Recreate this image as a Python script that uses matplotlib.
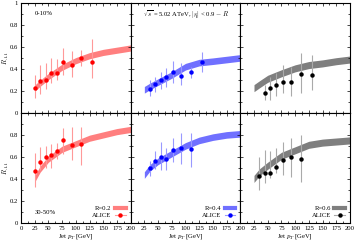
import numpy as np
import matplotlib
matplotlib.use('Agg')
import matplotlib.pyplot as plt
from matplotlib.ticker import MultipleLocator, FuncFormatter
from matplotlib.lines import Line2D

plt.rcParams['font.family'] = ['Liberation Serif', 'DejaVu Serif']
plt.rcParams['mathtext.fontset'] = 'cm'

# ALICE data points (pT bin centres, R_AA, error low/high)
pt_r2_top = [25, 35, 45, 55, 65, 77.5, 92.5, 110, 130]
raa_r2_top = [0.23, 0.29, 0.30, 0.36, 0.36, 0.46, 0.44, 0.50, 0.46]
lo_r2_top = [0.135, 0.17, 0.215, 0.27, 0.30, 0.345, 0.325, 0.43, 0.32]
hi_r2_top = [0.345, 0.44, 0.455, 0.495, 0.49, 0.59, 0.565, 0.57, 0.67]

pt_r4_top = [35, 45, 55, 65, 77.5, 92.5, 110, 130]
raa_r4_top = [0.22, 0.26, 0.30, 0.33, 0.37, 0.34, 0.37, 0.46]
lo_r4_top = [0.15, 0.19, 0.22, 0.24, 0.27, 0.25, 0.315, 0.375]
hi_r4_top = [0.30, 0.33, 0.37, 0.41, 0.47, 0.45, 0.415, 0.55]

pt_r6_top = [45, 55, 65, 77.5, 92.5, 110, 130]
raa_r6_top = [0.18, 0.23, 0.25, 0.285, 0.285, 0.355, 0.345]
lo_r6_top = [0.12, 0.12, 0.15, 0.18, 0.15, 0.18, 0.21]
hi_r6_top = [0.255, 0.33, 0.36, 0.435, 0.42, 0.54, 0.525]

pt_r2_bot = [25, 35, 45, 55, 65, 77.5, 92.5, 110]
raa_r2_bot = [0.475, 0.555, 0.595, 0.615, 0.655, 0.75, 0.71, 0.72]
lo_r2_bot = [0.33, 0.48, 0.50, 0.50, 0.58, 0.63, 0.57, 0.53]
hi_r2_bot = [0.635, 0.69, 0.695, 0.72, 0.73, 0.86, 0.875, 0.875]

pt_r4_bot = [35, 45, 55, 65, 77.5, 92.5, 110]
raa_r4_bot = [0.495, 0.565, 0.60, 0.58, 0.665, 0.685, 0.67]
lo_r4_bot = [0.43, 0.49, 0.48, 0.48, 0.555, 0.54, 0.51]
hi_r4_bot = [0.56, 0.65, 0.74, 0.68, 0.775, 0.815, 0.815]

pt_r6_bot = [35, 45, 55, 65, 77.5, 92.5, 110]
raa_r6_bot = [0.43, 0.45, 0.455, 0.51, 0.57, 0.60, 0.58]
lo_r6_bot = [0.30, 0.36, 0.41, 0.45, 0.44, 0.42, 0.375]
hi_r6_bot = [0.60, 0.66, 0.65, 0.68, 0.74, 0.77, 0.80]

# theory bands (centre values)
band_pt = [25, 35, 50, 75, 100, 125, 150, 175, 200]
band_r2_top = [0.225, 0.27, 0.33, 0.415, 0.475, 0.52, 0.55, 0.57, 0.59]
band_r4_top = [0.21, 0.24, 0.28, 0.345, 0.42, 0.457, 0.47, 0.485, 0.50]
band_r6_top = [0.225, 0.26, 0.31, 0.36, 0.405, 0.435, 0.45, 0.47, 0.485]
band_r2_bot = [0.40, 0.49, 0.58, 0.67, 0.72, 0.77, 0.80, 0.83, 0.85]
band_r4_bot = [0.435, 0.50, 0.56, 0.63, 0.70, 0.75, 0.78, 0.80, 0.81]
band_r6_bot = [0.40, 0.46, 0.52, 0.61, 0.66, 0.71, 0.73, 0.74, 0.75]

labels_R = ['R=0.2', 'R=0.4', 'R=0.6']
band_cols = ['#ff7f7f', '#7070ff', '#7f7f7f']
pt_cols = ['#ff0000', '#0000ff', '#000000']
err_cols = ['#ff9999', '#9999ff', '#aaaaaa']
half_w = [0.028, 0.03, 0.032]

top = [(pt_r2_top, raa_r2_top, lo_r2_top, hi_r2_top, band_r2_top),
       (pt_r4_top, raa_r4_top, lo_r4_top, hi_r4_top, band_r4_top),
       (pt_r6_top, raa_r6_top, lo_r6_top, hi_r6_top, band_r6_top)]
bot = [(pt_r2_bot, raa_r2_bot, lo_r2_bot, hi_r2_bot, band_r2_bot),
       (pt_r4_bot, raa_r4_bot, lo_r4_bot, hi_r4_bot, band_r4_bot),
       (pt_r6_bot, raa_r6_bot, lo_r6_bot, hi_r6_bot, band_r6_bot)]

fig, axes = plt.subplots(2, 3, figsize=(3.56, 2.41), dpi=100)
fig.subplots_adjust(left=0.059, right=0.983, top=0.988, bottom=0.075, wspace=0, hspace=0)

def yfmt(v, pos):
    return '%g' % round(v, 2)

def yfmt_bot(v, pos):
    return '' if v > 0.95 else '%g' % round(v, 2)

def xfmt_skip0(v, pos):
    return '' if v < 1 else '%g' % v

fs = 4.8
for row, rows in enumerate([top, bot]):
    for col, (pt, raa, lo, hi, band) in enumerate(rows):
        ax = axes[row, col]
        b = np.array(band)
        ax.fill_between(band_pt, b - half_w[col], b + half_w[col], color=band_cols[col], lw=0)
        raa_a = np.array(raa)
        yerr = [raa_a - np.array(lo), np.array(hi) - raa_a]
        ax.errorbar(pt, raa, yerr=yerr, fmt='none', ecolor=err_cols[col], elinewidth=0.8, capsize=0)
        ax.plot(pt, raa, 'o', color=pt_cols[col], ms=3.2, mec='none')

        ax.set_xlim(0, 200)
        ax.set_ylim(0, 1)
        ax.xaxis.set_major_locator(MultipleLocator(25))
        ax.xaxis.set_minor_locator(MultipleLocator(12.5))
        ax.yaxis.set_major_locator(MultipleLocator(0.2))
        ax.yaxis.set_minor_locator(MultipleLocator(0.1))
        ax.tick_params(which='both', direction='in', top=True, right=True, labelsize=fs, pad=2, width=0.5)
        ax.tick_params(which='major', length=2.5)
        ax.tick_params(which='minor', length=1.2)
        for s in ax.spines.values():
            s.set_linewidth(0.8)

        if row == 0:
            ax.tick_params(labelbottom=False)
        else:
            ax.set_xlabel(r'Jet $p_T$ [GeV]', fontsize=fs, labelpad=1)
            if col > 0:
                ax.xaxis.set_major_formatter(FuncFormatter(xfmt_skip0))
            lh = [Line2D([], [], color=band_cols[col], lw=3),
                  Line2D([], [], color=err_cols[col], lw=0.8, marker='o', ms=3.2,
                         mfc=pt_cols[col], mec='none')]
            ax.legend(lh, [labels_R[col], 'ALICE'], loc='lower right', fontsize=fs, frameon=False,
                      handlelength=1.6, handletextpad=0.5, borderpad=0.25, borderaxespad=0.5,
                      labelspacing=0.15, markerfirst=False)
        if col == 0:
            ax.yaxis.set_major_formatter(FuncFormatter(yfmt if row == 0 else yfmt_bot))
            ax.set_ylabel(r'$R_{AA}$', fontsize=fs)
            ax.yaxis.set_label_coords(-0.09, 0.5)
        else:
            ax.tick_params(labelleft=False)

axes[0, 0].text(25.5, 0.9, '0-10%', fontsize=fs, va='center')
axes[1, 0].text(25.5, 0.094, '30-50%', fontsize=fs, va='center')
axes[0, 1].text(23, 0.9, r'$\sqrt{s}$ = 5.02 ATeV, $|\eta|$ < 0.9 $-$ $R$', fontsize=fs, va='center')

fig.savefig('out.png', dpi=100)
